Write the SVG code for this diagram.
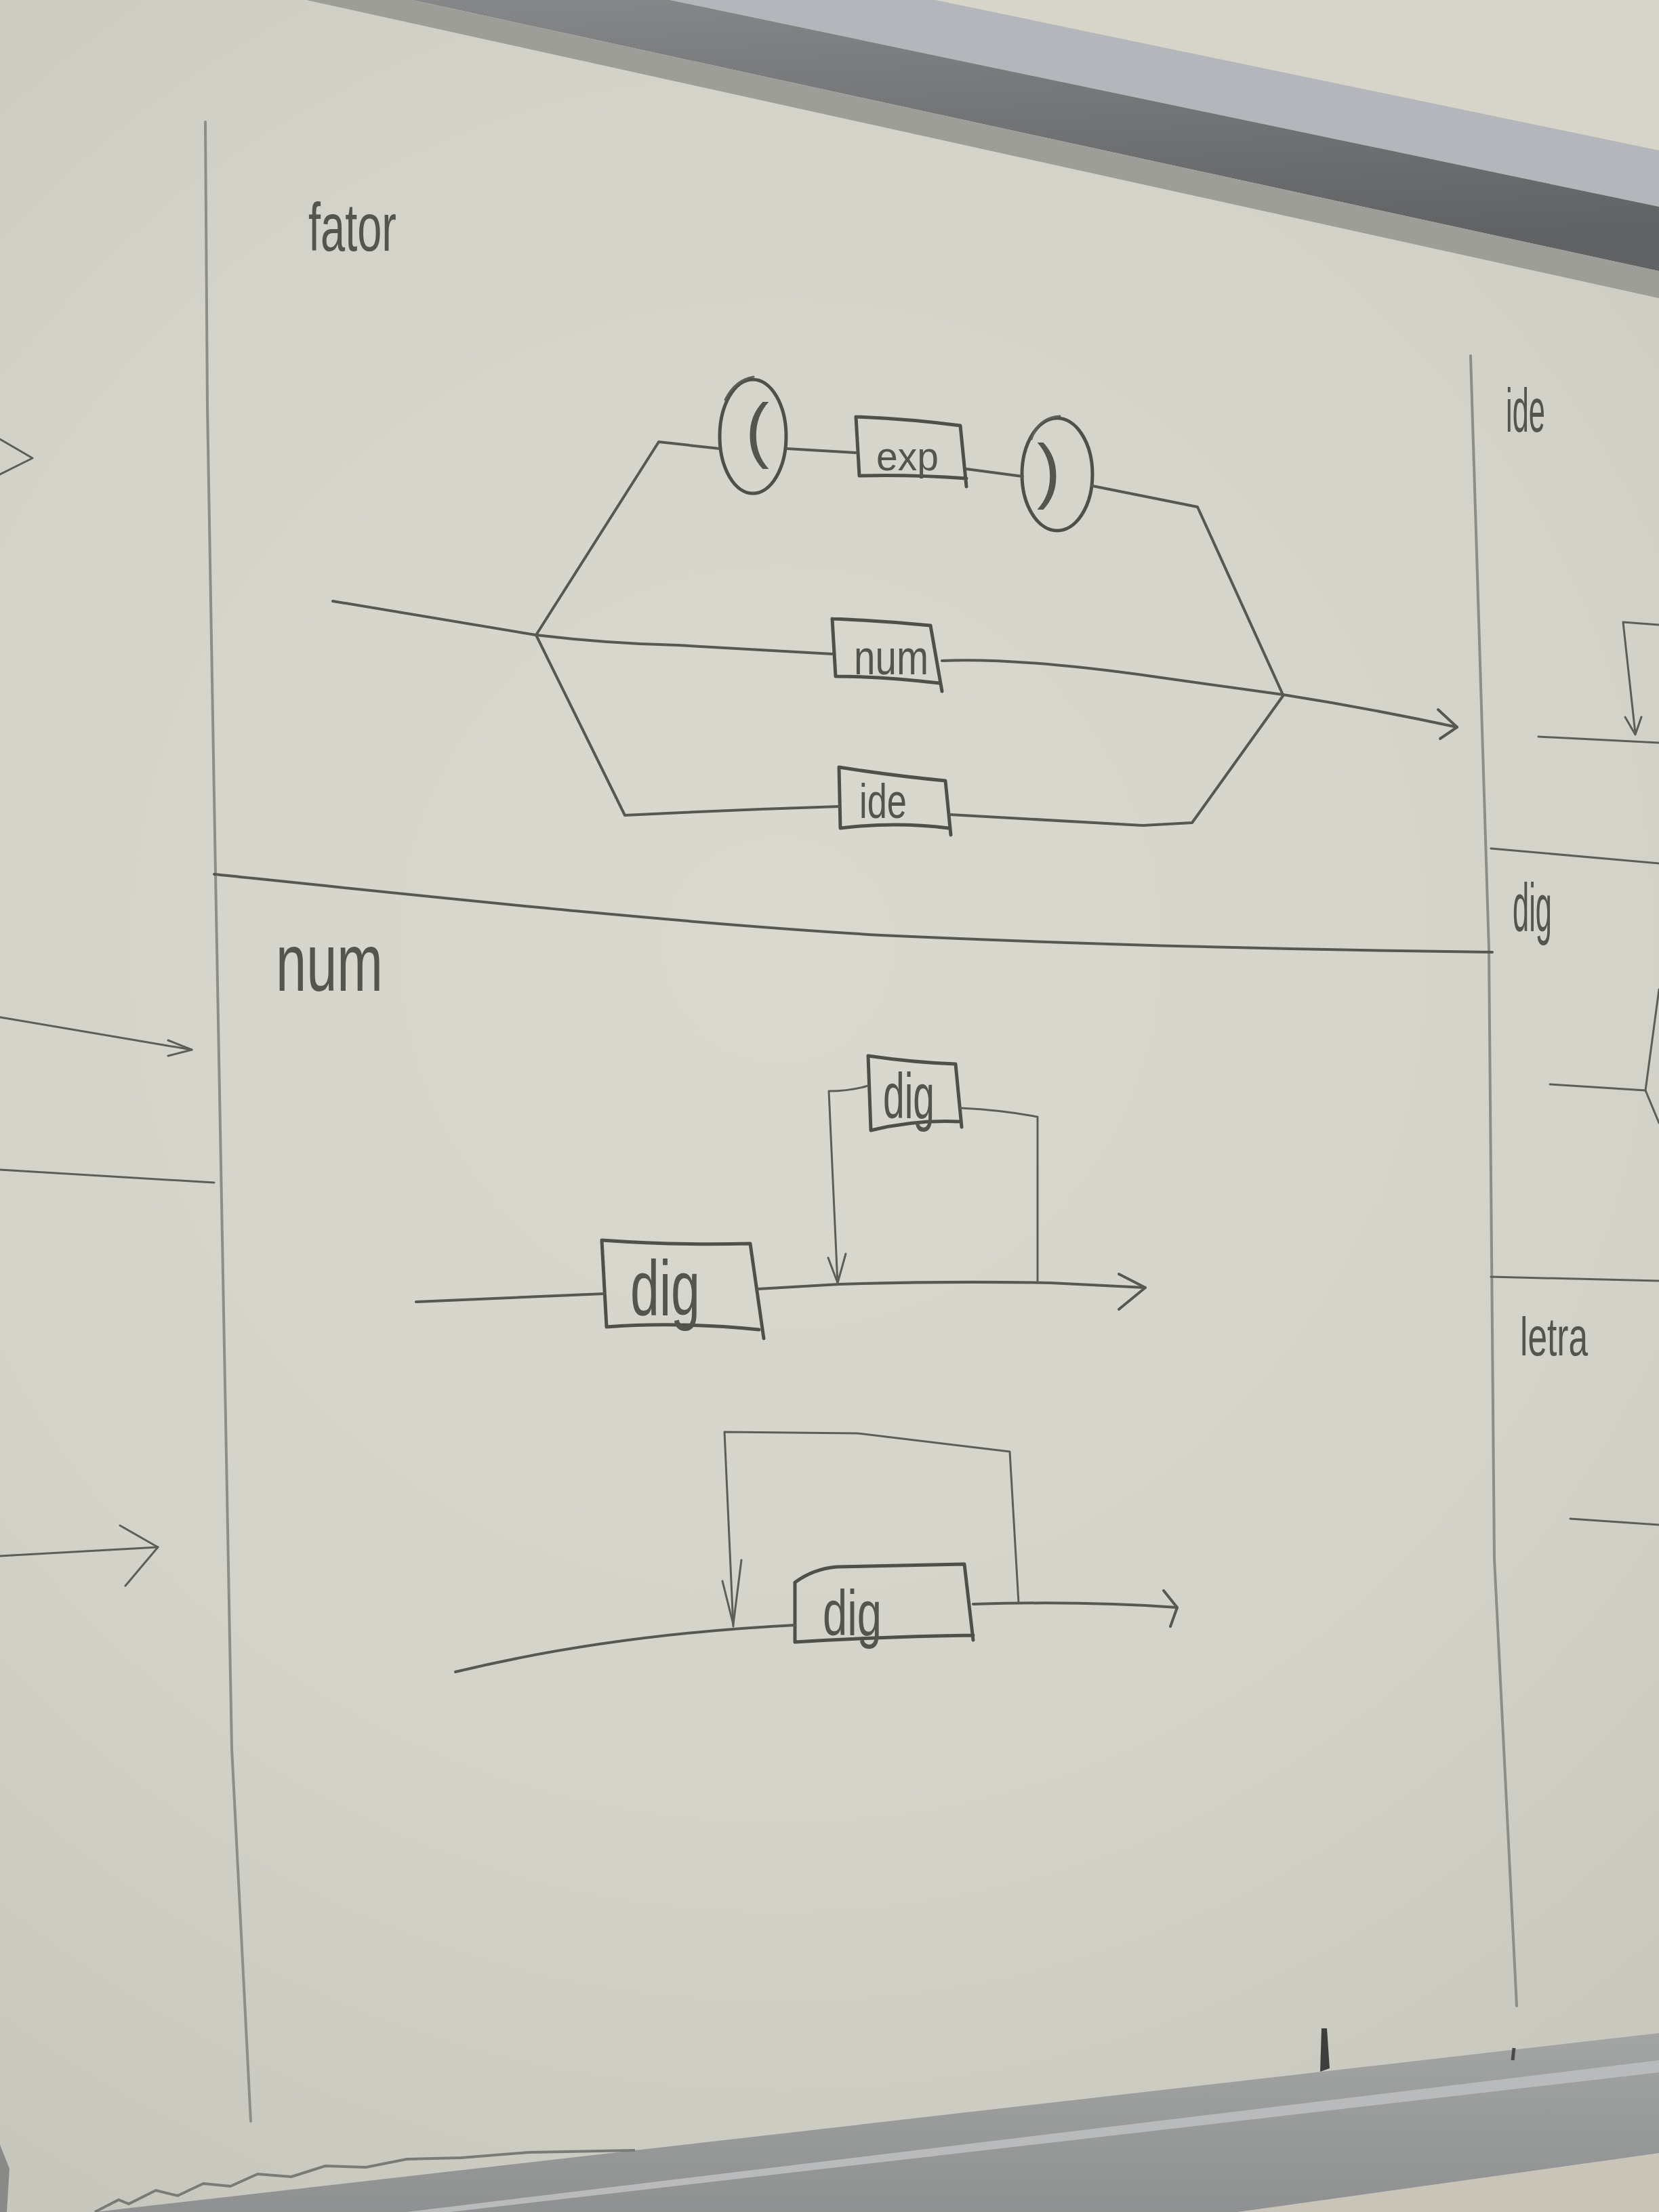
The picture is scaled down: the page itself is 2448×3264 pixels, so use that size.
<svg xmlns="http://www.w3.org/2000/svg" width="2448" height="3264" viewBox="0 0 2448 3264">
<defs>
<radialGradient id="board" cx="1150" cy="1400" r="2100" gradientUnits="userSpaceOnUse">
<stop offset="0" stop-color="#d9d9d0"/>
<stop offset="0.6" stop-color="#d3d3ca"/>
<stop offset="1" stop-color="#c7c7be"/>
</radialGradient>
<linearGradient id="darkband" x1="0" y1="0" x2="0.2" y2="1">
<stop offset="0" stop-color="#858789"/>
<stop offset="1" stop-color="#606264"/>
</linearGradient>
<linearGradient id="botframe" x1="0" y1="0" x2="0" y2="1">
<stop offset="0" stop-color="#a3a4a4"/>
<stop offset="1" stop-color="#8f9091"/>
</linearGradient>
<style>
.ink{fill:none;stroke:#585853;stroke-width:4;stroke-linecap:round;stroke-linejoin:round}
.box{fill:none;stroke:#50504b;stroke-width:5;stroke-linejoin:round;stroke-linecap:round}
.thin{fill:none;stroke:#5e5e59;stroke-width:3;stroke-linecap:round;stroke-linejoin:round}
.div{fill:none;stroke:#8d8e88;stroke-width:4;stroke-linecap:round}
.hand{font-family:"Liberation Sans","DejaVu Sans",sans-serif;fill:#555550}
</style>
</defs>

<!-- whiteboard surface -->
<rect x="0" y="0" width="2448" height="3264" fill="url(#board)"/>

<!-- top frame and wall -->
<g id="top-frame">
<polygon points="1380,0 2448,0 2448,222" fill="#d7d4c9"/>
<polygon points="988,0 1380,0 2448,222 2448,305" fill="#b3b7bb"/>
<polygon points="609,0 988,0 2448,305 2448,400" fill="url(#darkband)"/>
<polygon points="452,0 609,0 2448,400 2448,440" fill="#9d9e98"/>
</g>

<!-- bottom frame -->
<g id="bottom-frame">
<polygon points="140,3264 937,3173 2448,3000 2448,3264" fill="url(#botframe)"/>
<polygon points="600,3264 2448,3040 2448,3058 665,3264" fill="#b9babb"/>
<polygon points="1826,3264 2448,3177 2448,3264" fill="#c8c4b8"/>
<path d="M140,3264 L175,3246 L190,3252 L230,3232 L262,3240 L300,3222 L340,3226 L380,3208 L430,3212 L480,3196 L540,3198 L600,3186 L680,3184 L780,3176 L937,3173" fill="none" stroke="#7a7b77" stroke-width="4"/>
<path d="M1948,3057 L1950,2993 L1958,2993 L1962,3052 Z" fill="#3e3e3c"/>
<path d="M2232,3040 L2234,3022" fill="none" stroke="#4a4a48" stroke-width="5"/>
<path d="M0,3165 L14,3200 L10,3264 L0,3264 Z" fill="#8a8a88"/>
</g>

<!-- panel dividers -->
<g id="dividers">
<path class="div" d="M303,180 L306,600 L318,1290 L342,2580 L370,3130"/>
<path class="div" d="M2170,525 L2197,1400 L2205,2300 L2238,2960"/>
<path class="ink" d="M316,1290 C700,1330 1000,1362 1300,1380 C1650,1396 1950,1402 2202,1405"/>
<path class="thin" d="M0,1726 L316,1745"/>
<path class="thin" d="M2200,1252 L2448,1274"/>
<path class="thin" d="M2200,1884 L2448,1890"/>
</g>

<!-- section labels -->
<g id="label-fator"><text class="hand" x="455" y="370" font-size="100" textLength="130" lengthAdjust="spacingAndGlyphs">fator</text></g>
<g id="label-num"><text class="hand" x="407" y="1462" font-size="120" textLength="158" lengthAdjust="spacingAndGlyphs">num</text></g>
<g id="label-ide"><text class="hand" x="2222" y="637" font-size="90" textLength="58" lengthAdjust="spacingAndGlyphs">ide</text></g>
<g id="label-dig"><text class="hand" x="2232" y="1374" font-size="100" textLength="58" lengthAdjust="spacingAndGlyphs">dig</text></g>
<g id="label-letra"><text class="hand" x="2243" y="2000" font-size="80" textLength="100" lengthAdjust="spacingAndGlyphs">letra</text></g>

<!-- fator nodes -->
<g id="node-lparen">
<ellipse class="box" cx="1111" cy="644" rx="49" ry="84"/>
<path class="thin" d="M1070,590 Q1085,560 1112,556"/>
<text class="hand" x="1100" y="670" font-size="105">(</text>
</g>
<g id="node-exp">
<path class="box" d="M1263,615 Q1340,618 1417,628 L1426,718 M1426,706 Q1345,700 1268,702 L1263,615"/>
<text class="hand" x="1293" y="694" font-size="60" textLength="92" lengthAdjust="spacingAndGlyphs">exp</text>
</g>
<g id="node-rparen">
<ellipse class="box" cx="1560" cy="700" rx="52" ry="83"/>
<path class="thin" d="M1522,648 Q1532,616 1564,614"/>
<text class="hand" x="1530" y="730" font-size="105">)</text>
</g>
<g id="node-num">
<path class="box" d="M1228,913 Q1300,916 1373,923 L1390,1020 M1386,1008 Q1300,998 1233,998 L1228,913"/>
<text class="hand" x="1260" y="995" font-size="72" textLength="110" lengthAdjust="spacingAndGlyphs">num</text>
</g>
<g id="node-ide">
<path class="box" d="M1238,1132 Q1320,1145 1395,1152 L1403,1232 M1400,1222 Q1320,1212 1240,1222 L1238,1132"/>
<text class="hand" x="1268" y="1207" font-size="72" textLength="70" lengthAdjust="spacingAndGlyphs">ide</text>
</g>

<!-- num nodes -->
<g id="node-dig1">
<path class="box" d="M888,1830 Q1000,1838 1107,1835 L1127,1975 M1120,1962 Q1000,1950 895,1958 L888,1830"/>
<text class="hand" x="930" y="1940" font-size="115" textLength="103" lengthAdjust="spacingAndGlyphs">dig</text>
</g>
<g id="node-dig2">
<path class="box" d="M1281,1558 Q1350,1568 1410,1570 L1419,1663 M1415,1655 Q1350,1652 1285,1668 L1281,1558"/>
<text class="hand" x="1303" y="1650" font-size="95" textLength="76" lengthAdjust="spacingAndGlyphs">dig</text>
</g>
<g id="node-dig3">
<path class="box" d="M1173,2335 Q1200,2315 1235,2312 L1423,2308 L1436,2420 M1436,2413 Q1300,2415 1173,2423 L1173,2335"/>
<text class="hand" x="1214" y="2413" font-size="95" textLength="87" lengthAdjust="spacingAndGlyphs">dig</text>
</g>

<!-- connectors -->
<g id="connectors">
<!-- fator -->
<path class="ink" d="M491,887 L791,937"/>
<path class="ink" d="M791,937 L972,652 L1062,662"/>
<path class="ink" d="M1161,662 L1263,668"/>
<path class="ink" d="M1426,692 L1509,703"/>
<path class="ink" d="M1612,717 L1767,748 L1893,1025"/>
<path class="ink" d="M791,937 Q900,950 1000,952 L1228,965"/>
<path class="ink" d="M1390,975 Q1500,970 1700,998 L1893,1025"/>
<path class="ink" d="M791,937 L922,1203 Q1080,1195 1238,1190"/>
<path class="ink" d="M1402,1202 L1686,1218 L1759,1214 L1893,1027"/>
<path class="ink" d="M1893,1025 Q2020,1045 2150,1073"/>
<path class="ink" d="M2122,1047 L2150,1073 L2125,1090"/>
<!-- num, first diagram -->
<path class="ink" d="M614,1921 L891,1909"/>
<path class="ink" d="M1118,1902 L1238,1895 Q1400,1890 1550,1893 L1690,1900"/>
<path class="ink" d="M1651,1880 L1690,1900 L1651,1932"/>
<path class="thin" d="M1531,1892 L1531,1648 Q1480,1638 1417,1635"/>
<path class="thin" d="M1281,1602 Q1255,1610 1223,1610 L1236,1895"/>
<path class="thin" d="M1222,1856 L1236,1893 L1248,1850"/>
<!-- num, second diagram -->
<path class="ink" d="M672,2467 Q900,2412 1173,2398"/>
<path class="ink" d="M1436,2367 Q1600,2362 1737,2372"/>
<path class="ink" d="M1717,2347 L1737,2372 L1727,2400"/>
<path class="thin" d="M1503,2365 L1490,2142 L1265,2115 L1069,2113 L1082,2400"/>
<path class="thin" d="M1066,2333 L1082,2397 L1094,2302"/>
<!-- left panel fragments -->
<path class="thin" d="M0,648 L48,676 L0,700"/>
<path class="thin" d="M0,1501 L283,1549"/>
<path class="thin" d="M248,1535 L283,1549 L248,1558"/>
<path class="thin" d="M0,2296 L233,2283"/>
<path class="thin" d="M177,2251 L233,2283 L185,2340"/>
<!-- right panel fragments -->
<path class="thin" d="M2270,1087 L2448,1096"/>
<path class="thin" d="M2448,922 L2395,918 L2413,1082"/>
<path class="thin" d="M2398,1058 L2413,1084 L2422,1058"/>
<path class="thin" d="M2287,1600 L2428,1609"/>
<path class="thin" d="M2428,1609 L2448,1460"/>
<path class="thin" d="M2428,1609 L2448,1657"/>
<path class="thin" d="M2317,2241 L2448,2250"/>
</g>
</svg>
